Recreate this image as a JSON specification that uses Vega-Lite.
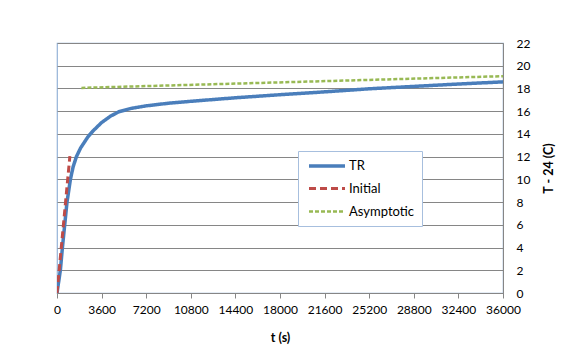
{
  "$schema": "https://vega.github.io/schema/vega-lite/v6.json",
  "width": 446,
  "height": 250,
  "autosize": {"type": "none"},
  "padding": {"left": 57, "top": 43, "right": 68, "bottom": 56},
  "background": "white",
  "config": {
    "font": "Lato",
    "view": {"stroke": "#95B3D7", "strokeWidth": 1.2},
    "axis": {"labelFont": "Lato", "titleFont": "Lato", "labelColor": "#000000", "titleColor": "#000000"}
  },
  "data": {
    "values": [
      {"series": "TR", "t": 0, "v": 0},
      {"series": "TR", "t": 150, "v": 1.1},
      {"series": "TR", "t": 275, "v": 2.05},
      {"series": "TR", "t": 437, "v": 4.0},
      {"series": "TR", "t": 622, "v": 6.0},
      {"series": "TR", "t": 808, "v": 8.0},
      {"series": "TR", "t": 1083, "v": 10.0},
      {"series": "TR", "t": 1300, "v": 11.1},
      {"series": "TR", "t": 1568, "v": 12.0},
      {"series": "TR", "t": 1900, "v": 12.75},
      {"series": "TR", "t": 2200, "v": 13.25},
      {"series": "TR", "t": 2500, "v": 13.75},
      {"series": "TR", "t": 2900, "v": 14.25},
      {"series": "TR", "t": 3600, "v": 15.0},
      {"series": "TR", "t": 4300, "v": 15.55},
      {"series": "TR", "t": 5000, "v": 15.95},
      {"series": "TR", "t": 6000, "v": 16.25},
      {"series": "TR", "t": 7200, "v": 16.47},
      {"series": "TR", "t": 9000, "v": 16.7},
      {"series": "TR", "t": 10800, "v": 16.87},
      {"series": "TR", "t": 14400, "v": 17.18},
      {"series": "TR", "t": 18000, "v": 17.45},
      {"series": "TR", "t": 21600, "v": 17.7},
      {"series": "TR", "t": 25200, "v": 17.97},
      {"series": "TR", "t": 28800, "v": 18.18},
      {"series": "TR", "t": 32400, "v": 18.39},
      {"series": "TR", "t": 36000, "v": 18.58},
      {"series": "Initial", "t": 0, "v": 0},
      {"series": "Initial", "t": 1040, "v": 12.05},
      {"series": "Asymptotic", "t": 1970, "v": 18.05},
      {"series": "Asymptotic", "t": 36000, "v": 19.08}
    ]
  },
  "mark": {"type": "line", "clip": true},
  "encoding": {
    "x": {
      "field": "t", "type": "quantitative",
      "scale": {"domain": [0, 36000], "nice": false},
      "axis": {
        "title": "t (s)", "titleFontSize": 12.5, "titleFontWeight": "bold", "titlePadding": 16,
        "values": [0, 3600, 7200, 10800, 14400, 18000, 21600, 25200, 28800, 32400, 36000],
        "format": "d", "labelFontSize": 12, "labelPadding": 6, "labelFlush": false,
        "grid": false, "domainColor": "#868686", "tickColor": "#868686", "tickSize": 5,
        "labelOverlap": false
      }
    },
    "y": {
      "field": "v", "type": "quantitative",
      "scale": {"domain": [0, 22], "nice": false},
      "axis": {
        "orient": "right", "title": "T - 24 (C)", "titleFontSize": 12.5, "titleFontWeight": "bold",
        "titleAngle": 270, "titlePadding": 26,
        "values": [0, 2, 4, 6, 8, 10, 12, 14, 16, 18, 20, 22],
        "labelFontSize": 12, "labelPadding": 13, "ticks": false,
        "grid": true, "gridColor": "#868686", "gridWidth": 1,
        "domainColor": "#868686"
      }
    },
    "color": {
      "field": "series", "type": "nominal",
      "scale": {"domain": ["TR", "Initial", "Asymptotic"], "range": ["#4A7EBB", "#BE4B48", "#98B954"]},
      "legend": {
        "title": null, "orient": "none", "legendX": 241, "legendY": 108,
        "strokeColor": "#A7BFDE", "fillColor": "white", "padding": 7,
        "symbolType": "M-3,0H3", "symbolSize": 144, "symbolStrokeWidth": 3,
        "symbolOffset": 14,
        "labelFont": "Lato", "labelFontSize": 13, "labelColor": "#000000", "labelOffset": 14,
        "rowPadding": 8
      }
    },
    "strokeDash": {
      "field": "series", "type": "nominal",
      "scale": {"domain": ["TR", "Initial", "Asymptotic"], "range": [[1, 0], [7, 4], [4, 2]]},
      "legend": null
    },
    "strokeWidth": {
      "field": "series", "type": "nominal",
      "scale": {"domain": ["TR", "Initial", "Asymptotic"], "range": [3.5, 2.5, 2]},
      "legend": null
    }
  }
}
